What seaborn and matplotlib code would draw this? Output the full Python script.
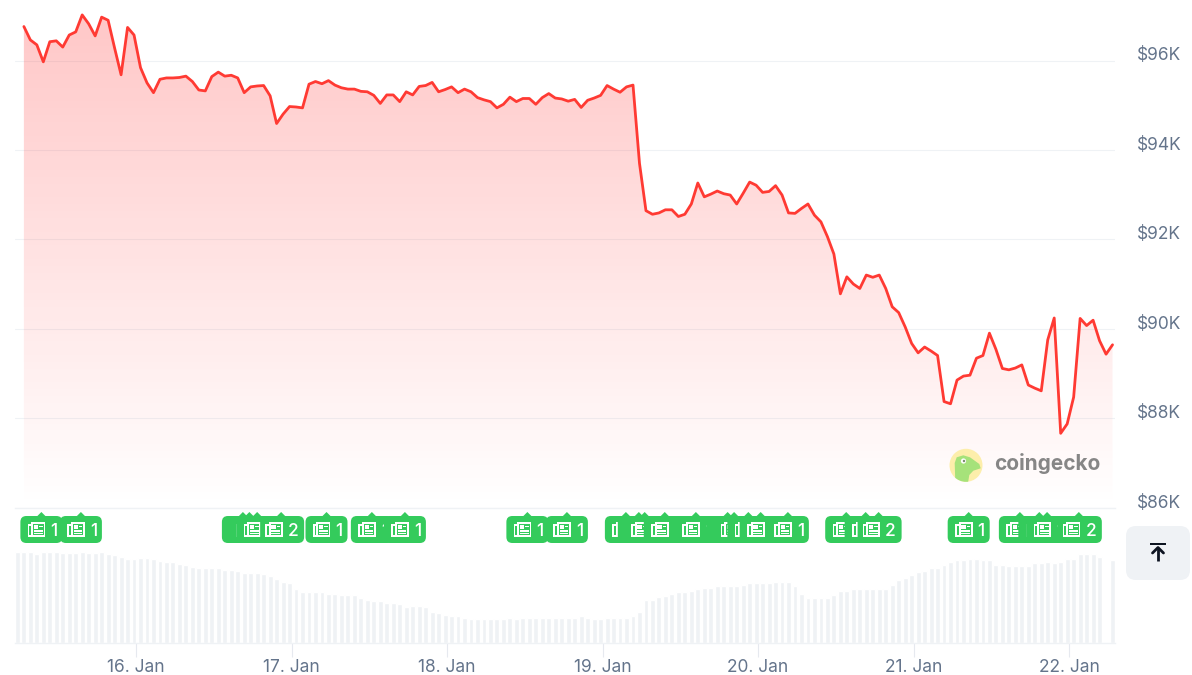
import matplotlib
matplotlib.use("Agg")
import numpy as np
import pandas as pd
import matplotlib.pyplot as plt
import seaborn as sns
from matplotlib.patches import Circle, FancyBboxPatch, Polygon, Rectangle

# price in thousand USD, one point per hour
prices = [
    96.76, 96.46, 96.35, 95.97, 96.42, 96.44, 96.30, 96.57, 96.64, 97.02,
    96.82, 96.55, 96.97, 96.90, 96.28, 95.68, 96.74, 96.57, 95.84, 95.50,
    95.28, 95.58, 95.61, 95.61, 95.62, 95.65, 95.53, 95.34, 95.32, 95.64,
    95.74, 95.65, 95.67, 95.61, 95.28, 95.41, 95.43, 95.44, 95.21, 94.59,
    94.80, 94.97, 94.96, 94.94, 95.47, 95.53, 95.48, 95.55, 95.45, 95.39,
    95.36, 95.36, 95.31, 95.30, 95.22, 95.04, 95.23, 95.23, 95.08,
    95.30, 95.23, 95.42, 95.44, 95.51, 95.30, 95.35, 95.41, 95.28, 95.36,
    95.30, 95.17, 95.12, 95.08, 94.94, 95.02, 95.18, 95.08, 95.15, 95.15,
    95.02, 95.17, 95.26, 95.16, 95.14, 95.09, 95.13, 94.95, 95.11, 95.16,
    95.22, 95.44, 95.36, 95.29, 95.41, 95.45, 93.70, 92.64, 92.56, 92.59,
    92.66, 92.66, 92.51, 92.56, 92.79, 93.26, 92.95, 93.01, 93.08, 93.02,
    92.99, 92.79, 93.03, 93.28, 93.21, 93.05, 93.07, 93.20,
    92.99, 92.59, 92.58, 92.69, 92.79, 92.54, 92.39, 92.06, 91.67, 90.78,
    91.16, 91.00, 90.90, 91.20, 91.15, 91.20, 90.90, 90.49, 90.36, 90.04,
    89.67, 89.46, 89.59, 89.50, 89.40, 88.37, 88.32, 88.85, 88.94, 88.96,
    89.34, 89.40, 89.90, 89.54, 89.11, 89.08, 89.12, 89.19, 88.74, 88.67,
    88.61, 89.75, 90.24, 87.66, 87.87, 88.47, 90.23, 90.07, 90.19, 89.73,
    89.43, 89.64,
]

# traded volume, relative units, one bar per hour
volumes = [
    90.7, 90.7, 90.7, 89.0, 90.7, 90.7, 90.7, 89.3, 89.3, 89.3,
    90.7, 89.3, 89.3, 90.7, 89.0, 87.7, 86.0, 83.3, 83.3, 84.7,
    84.7, 83.3, 81.7, 80.3, 80.3, 79.0, 77.3, 76.0, 74.3, 74.3,
    74.3, 74.3, 73.0, 73.0, 71.3, 70.0, 70.0, 70.0, 68.7, 66.7,
    64.0, 61.0, 59.3, 53.3, 50.3, 50.3, 50.3, 50.3, 48.7, 48.7,
    47.3, 47.3, 47.3, 44.3, 42.7, 41.3, 41.3, 40.0, 40.0, 38.3,
    35.3, 36.7, 36.7, 35.3, 31.0, 29.3, 27.7, 26.3,
    26.3, 24.7, 23.3, 23.3, 23.3, 23.3, 23.3, 23.3, 24.7, 23.3,
    24.7, 24.7, 24.7, 24.7, 24.7, 24.7, 24.7, 24.7, 24.7, 26.3,
    24.7, 23.3, 23.3, 24.7, 24.7, 24.7, 24.7, 26.3, 30.7, 42.7,
    42.7, 45.7, 47.0, 48.7, 50.3, 50.3, 52.0, 53.3, 54.7, 54.7,
    56.3, 56.3, 56.3, 56.3, 57.7, 59.3, 59.3, 59.3, 59.3, 60.7,
    60.7, 60.7, 56.3, 48.7, 44.3, 44.3, 44.3, 44.3, 47.3, 51.7,
    51.7, 53.3, 53.3, 53.3, 53.3, 53.3, 53.3, 57.7, 62.3,
    64.3, 67.7, 70.7, 72.0, 75.0, 75.0, 78.0, 81.0, 82.7, 82.7,
    84.0, 84.0, 82.7, 82.7, 78.0, 78.0, 76.7, 76.7, 76.7, 76.7,
    79.7, 79.7, 81.0, 79.7, 81.0, 84.0, 84.0, 88.7, 88.7, 88.7,
    85.7, 0.0, 82.7,
]

# news flags: hour after 16 Jan 00:00 and number of articles
news_hours = [
    -14.6, -8.5, 16.5, 17.5, 18.7, 22.4, 29.4, 36.4, 41.5, 60.4,
    66.5, 75.6, 77.6, 78.5, 81.6, 86.4, 91.3, 92.3, 94.5, 96.4,
    100.6, 109.6, 112.6, 114.6, 128.5, 136.4, 139.4, 140.6, 145.5,
]
news_counts = [
    1, 1, 1, 1, 1, 2, 1, 1, 1, 1,
    1, 1, 1, 1, 1, 1, 1, 1, 1, 1,
    1, 1, 1, 2, 1, 1, 1, 1, 2,
]

y_ticks = [86, 88, 90, 92, 94, 96]
y_labels = ["$86K", "$88K", "$90K", "$92K", "$94K", "$96K"]
x_ticks = [0, 24, 48, 72, 96, 120, 144]
x_labels = ["16. Jan", "17. Jan", "18. Jan", "19. Jan", "20. Jan", "21. Jan", "22. Jan"]

W, H = 1192, 675
GRID = "#eff2f5"
TEXT = "#64748b"
GREEN = "#34cb5c"
RED = "#ff3a33"

sns.set_theme(style="white")
plt.rcParams["font.family"] = ["Inter", "DejaVu Sans"]


def px_axes(left, top, right, bottom):
    return fig.add_axes([left / W, 1 - bottom / H, (right - left) / W, (bottom - top) / H])


fig = plt.figure(figsize=(W / 100, H / 100), dpi=100, facecolor="white")

# hourly positions
hours = np.arange(len(prices)) - 17.3
bar_hours = np.arange(len(volumes)) - 18.3
xlim = (-18.67, 151.08)

price_df = pd.DataFrame({"hour": hours, "price": prices})
volume_df = pd.DataFrame({"hour": bar_hours, "volume": volumes})

# price panel
ax = px_axes(15, 0, 1115, 507.5)
ax.set_axisbelow(True)
ax.grid(axis="y", color=GRID, linewidth=0.8)
ylim = (86, 96 + 60.5 / 44.7)

# gradient under the line
rgba = np.zeros((256, 1, 4))
rgba[..., 0] = 1.0
rgba[..., 1] = 0.22
rgba[..., 2] = 0.22
rgba[..., 3] = np.linspace(0.28, 0.0, 256)[:, None]
img = ax.imshow(rgba, extent=(xlim[0], xlim[1], 86, 97), aspect="auto", origin="upper", zorder=1)
outline = list(zip(hours, prices)) + [(hours[-1], 86), (hours[0], 86)]
clip = Polygon(outline, closed=True, transform=ax.transData, facecolor="none", edgecolor="none")
ax.add_patch(clip)
img.set_clip_path(clip)

sns.lineplot(data=price_df, x="hour", y="price", color=RED, linewidth=2.0, errorbar=None, ax=ax, zorder=3)
ax.set_xlim(*xlim)
ax.set_ylim(*ylim)
ax.set_xlabel("")
ax.set_ylabel("")
ax.set_xticks([])
ax.yaxis.tick_right()
ax.set_yticks(y_ticks)
ax.set_yticklabels(y_labels, color=TEXT, fontsize=12.5, va="baseline", ha="left")
ax.tick_params(axis="y", length=0, pad=15.5)
sns.despine(ax=ax, left=True, right=True, top=True, bottom=False)
ax.spines["bottom"].set_color(GRID)
ax.spines["bottom"].set_linewidth(1.0)

# volume panel
vax = px_axes(15, 548, 1115, 642.7)
sns.barplot(data=volume_df, x="hour", y="volume", native_scale=True, color="#eff2f5",
            saturation=1, width=0.75, ax=vax)
vax.set_xlim(*xlim)
vax.set_ylim(0, 94.7)
vax.set_xlabel("")
vax.set_ylabel("")
vax.set_yticks([])
vax.set_xticks(x_ticks)
vax.set_xticklabels(x_labels, color=TEXT, fontsize=12.5)
vax.tick_params(axis="x", length=10, width=0.8, color="#e6e9ef", pad=1.5, bottom=True)
sns.despine(ax=vax, left=True, right=True, top=True, bottom=False)
vax.spines["bottom"].set_color(GRID)
vax.spines["bottom"].set_linewidth(1.0)
vax.patch.set_alpha(0)

# overlay in pixels for flags, logo and button
ui = fig.add_axes([0, 0, 1, 1], zorder=5)
ui.set_xlim(0, W)
ui.set_ylim(H, 0)
ui.axis("off")


def rect(x0, y0, x1, y1, color, z):
    ui.add_patch(Rectangle((x0, y0), x1 - x0, y1 - y0, facecolor=color, edgecolor="none", zorder=z))


# flags go left to right, each one covers the one before
for i, (h, n) in enumerate(zip(news_hours, news_counts)):
    x = ax.transData.transform((h, 90))[0]
    z = 10 + i
    right = 23 if n > 1 else 21
    ui.add_patch(FancyBboxPatch((x - 21, 516), 21 + right, 27, boxstyle="round,pad=0,rounding_size=6",
                                facecolor=GREEN, edgecolor="none", zorder=z))
    ui.add_patch(Polygon([(x - 4.5, 516.5), (x, 512), (x + 4.5, 516.5)], closed=True,
                         facecolor=GREEN, edgecolor="none", zorder=z))
    # newspaper icon
    ix = x - 13.5 if n == 1 else x - 16
    rect(ix, 524, ix + 3.5, 537, "white", z)
    rect(ix + 1.6, 526, ix + 3.5, 535, GREEN, z)
    rect(ix + 3.5, 522, ix + 17.5, 537, "white", z)
    rect(ix + 5.4, 524, ix + 15.8, 535.2, GREEN, z)
    rect(ix + 6.2, 525, ix + 10.4, 529, "white", z)
    rect(ix + 11.4, 525.6, ix + 15, 527.2, "white", z)
    rect(ix + 6.2, 530, ix + 15, 531.6, "white", z)
    rect(ix + 6.2, 532.8, ix + 15, 534.4, "white", z)
    ui.text(x + (12.5 if n == 1 else 12), 530, str(n), color="white", fontsize=12.5, fontweight="medium",
            ha="center", va="center_baseline", zorder=z)

# logo
logo = Circle((966, 465.3), 16.5, facecolor="#fdeeab", edgecolor="none", zorder=4)
ui.add_patch(logo)
gecko = Polygon([(955.3, 482), (954.7, 463), (956.7, 457.3), (963.3, 455.3), (970, 457.3),
                 (979.3, 464), (980.7, 468.3), (973.3, 470.7), (969.3, 475), (968, 483)],
                closed=True, facecolor="#a6e27a", edgecolor="none", zorder=5)
ui.add_patch(gecko)
gecko.set_clip_path(logo)
ui.add_patch(Circle((963.5, 461), 2.6, facecolor="white", edgecolor="none", zorder=6))
ui.add_patch(Circle((964, 461), 1.2, facecolor="#7a8a70", edgecolor="none", zorder=7))
ui.text(994, 464, "coingecko", color="#868686", fontsize=15, fontweight="bold", ha="left",
        va="center", zorder=6)

# scroll to top button
ui.add_patch(FancyBboxPatch((1126, 526), 64, 54, boxstyle="round,pad=0,rounding_size=10",
                            facecolor=GRID, edgecolor="none", zorder=4))
rect(1150, 543, 1166, 545.3, "#0d1421", 5)
ui.plot([1158, 1158], [560.5, 548], color="#0d1421", linewidth=2, solid_capstyle="butt", zorder=5)
ui.plot([1152.5, 1158, 1163.5], [553, 547.5, 553], color="#0d1421", linewidth=2, zorder=5)

fig.savefig("out.png", dpi=100)
